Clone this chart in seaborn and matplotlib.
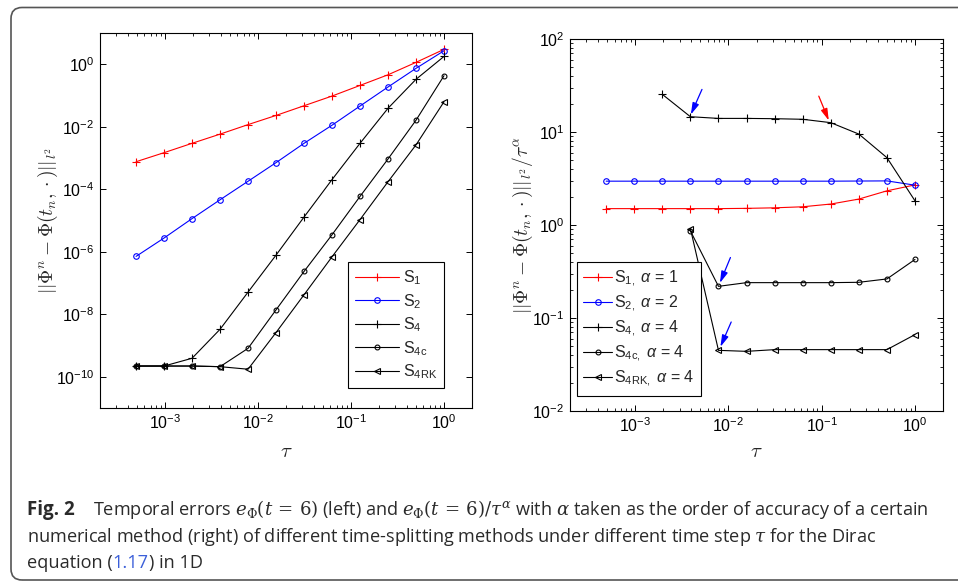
import numpy as np
import pandas as pd
import matplotlib
matplotlib.use("Agg")
import matplotlib.pyplot as plt
import seaborn as sns
from matplotlib.patches import FancyBboxPatch
from matplotlib.transforms import IdentityTransform
from matplotlib.ticker import LogLocator, FixedLocator, NullLocator

# time steps tau = 1/2048 ... 1
tau = [1/2048, 1/1024, 1/512, 1/256, 1/128, 1/64, 1/32, 1/16, 1/8, 1/4, 1/2, 1]

# left panel: errors
err_s1 = [7.6e-4, 1.48e-3, 2.95e-3, 5.8e-3, 1.17e-2, 2.3e-2, 4.7e-2, 9.6e-2, 0.21, 0.46, 1.15, 3.0]
err_s2 = [7.1e-7, 2.75e-6, 1.15e-5, 4.6e-5, 1.8e-4, 7.1e-4, 2.95e-3, 1.12e-2, 4.6e-2, 0.187, 0.74, 2.7]
err_s4 = [2.2e-10, 2.2e-10, 3.9e-10, 3.3e-9, 5.1e-8, 7.8e-7, 1.29e-5, 2.04e-4, 2.95e-3, 3.9e-2, 0.33, 1.78]
err_s4c = [2.2e-10, 2.2e-10, 2.2e-10, 2.1e-10, 8.1e-10, 1.38e-8, 2.34e-7, 3.5e-6, 5.9e-5, 9.3e-4, 1.62e-2, 0.43]
err_s4rk = [2.2e-10, 2.2e-10, 2.2e-10, 2.1e-10, 1.74e-10, 2.6e-9, 4.2e-8, 6.9e-7, 1.07e-5, 1.74e-4, 2.63e-3, 6.3e-2]

# right panel: error / tau^alpha
nan = np.nan
rat_s1 = [1.50, 1.50, 1.50, 1.50, 1.50, 1.51, 1.53, 1.57, 1.68, 1.90, 2.33, 2.70]
rat_s2 = [2.96, 2.96, 2.96, 2.96, 2.96, 2.96, 2.96, 2.96, 2.96, 2.97, 2.98, 2.68]
rat_s4 = [nan, nan, 25.4, 14.6, 14.0, 14.0, 13.9, 13.7, 12.6, 9.5, 5.3, 1.82]
rat_s4c = [nan, nan, nan, 0.865, 0.219, 0.240, 0.240, 0.240, 0.240, 0.242, 0.263, 0.426]
rat_s4rk = [nan, nan, nan, 0.916, 0.0449, 0.0438, 0.0457, 0.0457, 0.0457, 0.0457, 0.0457, 0.0663]

names_left = [r"S$_\mathrm{1}$", r"S$_\mathrm{2}$", r"S$_\mathrm{4}$", r"S$_\mathrm{4c}$", r"S$_\mathrm{4RK}$"]
names_right = [r"S$_\mathrm{1,}$ $\alpha$ = 1", r"S$_\mathrm{2,}$ $\alpha$ = 2", r"S$_\mathrm{4,}$ $\alpha$ = 4",
               r"S$_\mathrm{4c,}$ $\alpha$ = 4", r"S$_\mathrm{4RK,}$ $\alpha$ = 4"]
colors = ["#ff0000", "#0000ff", "black", "black", "black"]
markers = ["+", "o", "+", "o", "<"]
msizes = [5.5, 4, 5.5, 3.5, 4]

sns.set_style("ticks", {"xtick.direction": "in", "ytick.direction": "in"})
plt.rcParams["font.family"] = ["Liberation Sans", "DejaVu Sans"]
plt.rcParams["mathtext.fontset"] = "custom"
plt.rcParams["mathtext.rm"] = "Liberation Sans"
plt.rcParams["mathtext.it"] = "Liberation Sans:italic"
plt.rcParams["mathtext.bf"] = "Liberation Sans:bold"

fig = plt.figure(figsize=(9.58, 5.82), dpi=100)
ax1 = fig.add_axes([0.1044, 0.2990, 0.3883, 0.6443])
ax2 = fig.add_axes([0.5950, 0.2938, 0.3894, 0.6392])


def draw_panel(ax, series, labels):
    for y, lab, c, m, ms in zip(series, labels, colors, markers, msizes):
        d = pd.DataFrame({"tau": tau, "val": y}).dropna()
        sns.lineplot(data=d, x="tau", y="val", ax=ax, color=c, marker=m, ms=ms,
                     mfc="none", mec=c, mew=0.8, lw=0.8, label=lab)
    ax.set_xscale("log")
    ax.set_yscale("log")
    ax.set_xlim(2e-4, 2)
    ax.xaxis.set_major_locator(FixedLocator([1e-3, 1e-2, 1e-1, 1e0]))
    ax.xaxis.set_minor_locator(LogLocator(base=10, subs=np.arange(2, 10), numticks=20))
    ax.tick_params(which="both", direction="in", top=True, right=True,
                   labelsize=11.5, colors="black", pad=4)
    ax.tick_params(which="major", length=4, width=0.7)
    ax.tick_params(which="minor", length=2.2, width=0.6)
    for s in ax.spines.values():
        s.set_linewidth(0.8)
        s.set_color("black")


draw_panel(ax1, [err_s1, err_s2, err_s4, err_s4c, err_s4rk], names_left)
ax1.set_ylim(1e-11, 1e1)
ax1.yaxis.set_major_locator(FixedLocator([1e-10, 1e-8, 1e-6, 1e-4, 1e-2, 1e0]))
ax1.yaxis.set_minor_locator(NullLocator())

draw_panel(ax2, [rat_s1, rat_s2, rat_s4, rat_s4c, rat_s4rk], names_right)
ax2.set_ylim(1e-2, 1e2)
ax2.yaxis.set_major_locator(FixedLocator([1e-2, 1e-1, 1e0, 1e1, 1e2]))
ax2.yaxis.set_minor_locator(LogLocator(base=10, subs=np.arange(2, 10), numticks=20))

# axis labels
ax1.set_ylabel(r"$||\Phi^n-\Phi(t_n,\cdot)||_{l^2}$", fontsize=14, math_fontfamily="cm")
ax2.set_ylabel(r"$||\Phi^n-\Phi(t_n,\cdot)||_{l^2}/\tau^{\alpha}$", fontsize=14, math_fontfamily="cm")
ax1.set_xlabel(r"$\tau$", fontsize=15, math_fontfamily="cm")
ax2.set_xlabel(r"$\tau$", fontsize=15, math_fontfamily="cm")
ax1.yaxis.set_label_coords(-0.14, 0.5)
ax2.yaxis.set_label_coords(-0.126, 0.5)
ax1.xaxis.set_label_coords(0.5, -0.117)
ax2.xaxis.set_label_coords(0.5, -0.11)
for a in (ax1, ax2):
    a.yaxis.label.set_va("center")
    a.xaxis.label.set_va("center")

# legends
leg_kw = dict(loc="upper left", fontsize=11.5, frameon=True, fancybox=False,
              framealpha=1, edgecolor="black", borderaxespad=0, numpoints=1,
              labelspacing=0.3, borderpad=0.4)
l1 = ax1.legend(bbox_to_anchor=(0.667, 0.389), handlelength=2.8, handletextpad=0.25, **leg_kw)
l2 = ax2.legend(bbox_to_anchor=(0.019, 0.40), handlelength=1.8, handletextpad=0.1, **leg_kw)
for lg in (l1, l2):
    lg.get_frame().set_linewidth(0.8)

# arrows in the right panel
arrows = [((5.2e-3, 28.7), (3.95e-3, 15.4), "#0000ff"),
          ((0.093, 24.3), (0.119, 13.3), "#ff0000"),
          ((0.0105, 0.447), (8.1e-3, 0.238), "#0000ff"),
          ((0.0107, 0.0906), (8.2e-3, 0.049), "#0000ff")]
for tail, head, c in arrows:
    ax2.annotate("", xy=head, xytext=tail,
                 arrowprops=dict(arrowstyle="-|>,head_length=0.7,head_width=0.2",
                                 color=c, lw=0.9, shrinkA=0, shrinkB=0))

# frame around the figure
frame = FancyBboxPatch((11, 2), 1000, 572.5, boxstyle="round,pad=0,rounding_size=11",
                       transform=IdentityTransform(), fill=False, ec="#555555", lw=1.2)
fig.add_artist(frame)

# caption
W, H = 958.0, 582.0
renderer = fig.canvas.get_renderer()
cap_kw = dict(family="Open Sans", fontsize=13.1, color="#2a2a2a", va="baseline",
              math_fontfamily="dejavuserif")


def chain(x, y, parts):
    for s, extra in parts:
        kw = dict(cap_kw)
        kw.update(extra)
        t = fig.text(x / W, 1 - y / H, s, **kw)
        bb = t.get_window_extent(renderer)
        x = bb.x1


chain(27, 515, [("Fig. 2", {"weight": "bold", "fontsize": 13.5})])
chain(93, 515, [(r"Temporal errors $e_{\Phi}(t\,=\,6)$ (left) and $e_{\Phi}(t\,=\,6)/\tau^{\alpha}$ with "
                 r"$\alpha$ taken as the order of accuracy of a certain", {})])
chain(27, 541.5, [(r"numerical method (right) of different time-splitting methods under different "
                   r"time step $\tau$ for the Dirac", {})])
chain(27, 568, [("equation (", {}), ("1.17", {"color": "#3b5fd9"}), (") in 1D", {})])

fig.savefig("out.png", dpi=100)
